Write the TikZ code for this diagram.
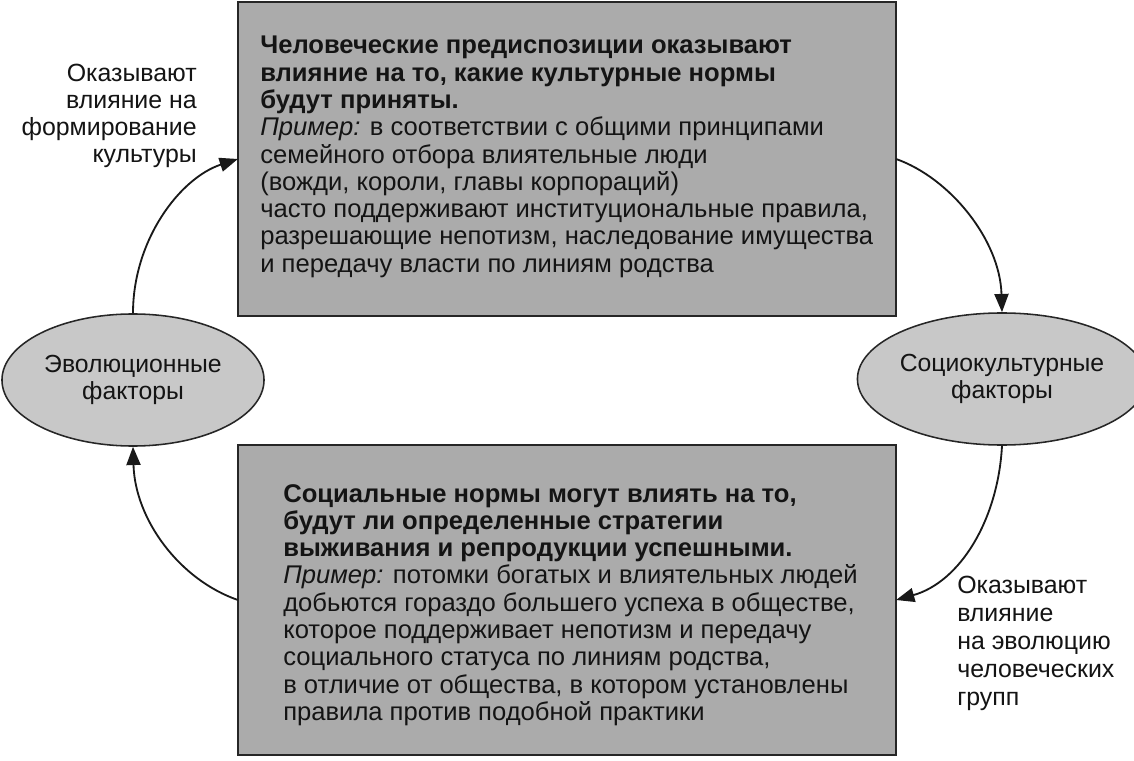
\documentclass[tikz,border=0pt]{standalone}
\usepackage{fontspec}
\setmainfont{Liberation Sans}
\usetikzlibrary{arrows.meta,shapes.geometric}
\definecolor{boxgray}{RGB}{171,171,171}
\definecolor{ellgray}{RGB}{200,200,200}
\definecolor{txt}{RGB}{20,20,20}
\begin{document}
\begin{tikzpicture}[x=0.025cm,y=-0.025cm,
  boxshape/.style={rectangle,draw=black!85,line width=1.5pt,fill=boxgray,minimum width=16.45cm,inner sep=0pt,outer sep=0pt},
  ell/.style={ellipse,draw=black!85,line width=1.1pt,fill=ellgray,minimum width=6.55cm,minimum height=3.3cm,inner sep=0pt,align=center,font=\fontsize{17.6}{19.8}\selectfont,text=txt},
  boxtext/.style={anchor=north west,inner sep=0pt,align=left,font=\fontsize{18.2}{19.4}\selectfont,text=txt},
  lbl/.style={inner sep=0pt,font=\fontsize{17.7}{19.2}\selectfont,text=txt},
  arr/.style={line width=1.3pt,draw=black!90,-{Triangle[length=13pt,width=10pt]}}
]
\useasboundingbox (0,0) rectangle (1134,761);
\fill[white] (0,0) rectangle (1134,761);

\node[boxshape,minimum height=7.85cm] (top) at (567,159) {};
\node[boxshape,minimum height=7.75cm] (bot) at (567,600) {};

\node[boxtext] (toptext) at (260,36) {%
\textbf{Человеческие предиспозиции оказывают}\\
\textbf{влияние на то, какие культурные нормы}\\
\textbf{будут приняты.}\\
\textit{Пример:} в соответствии с общими принципами\\
семейного отбора влиятельные люди\\
(вожди, короли, главы корпораций)\\
часто поддерживают институциональные правила,\\
разрешающие непотизм, наследование имущества\\
и передачу власти по линиям родства};

\node[boxtext] (bottext) at (283,484) {%
\textbf{Социальные нормы могут влиять на то,}\\
\textbf{будут ли определенные стратегии}\\
\textbf{выживания и репродукции успешными.}\\
\textit{Пример:} потомки богатых и влиятельных людей\\
добьются гораздо большего успеха в обществе,\\
которое поддерживает непотизм и передачу\\
социального статуса по линиям родства,\\
в отличие от общества, в котором установлены\\
правила против подобной практики};

\node[ell] (evo) at (133,380) {Эволюционные\\факторы};
\node[ell] (soc) at (1002,379) {Социокультурные\\факторы};

\node[lbl,anchor=north east,align=right] (lbltl) at (197,64) {Оказывают\\влияние на\\формирование\\культуры};
\node[lbl,anchor=north west,align=left,font=\fontsize{17.7}{19.9}\selectfont] (lblbr) at (957,576) {Оказывают\\влияние\\на эволюцию\\человеческих\\групп};

\draw[arr] (evo.north) .. controls (133,240) and (180,178) .. (top.west);
\draw[arr] (top.east) .. controls (950,178) and (1000,240) .. (soc.north);
\draw[arr] (soc.south) .. controls (998,520) and (960,582) .. (bot.east);
\draw[arr] (bot.west) .. controls (180,580) and (135,520) .. (evo.south);
\end{tikzpicture}
\end{document}
